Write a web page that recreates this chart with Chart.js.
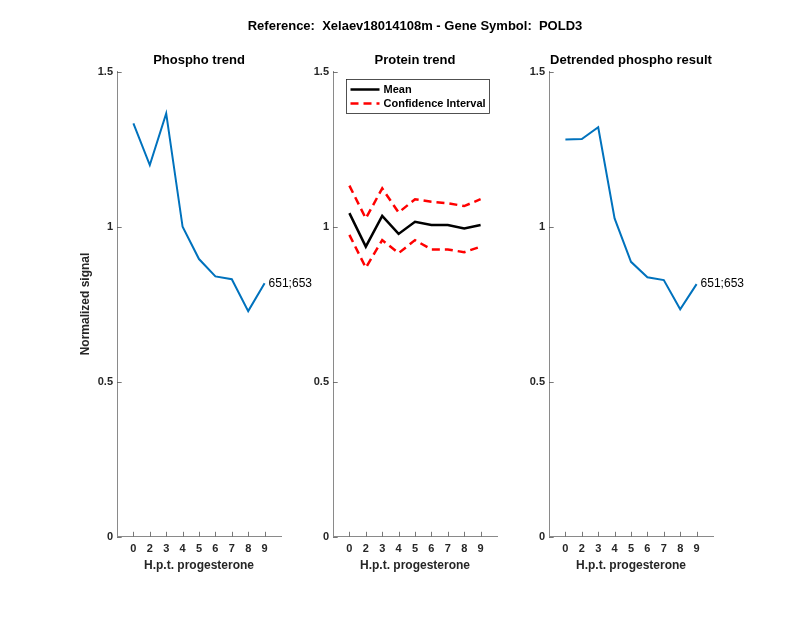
<!DOCTYPE html>
<html>
<head>
<meta charset="utf-8">
<script src="https://cdn.jsdelivr.net/npm/chart.js@4.4.0/dist/chart.umd.min.js"></script>
<style>
  body { margin: 0; background: #fff; }
  #wrap { position: relative; width: 800px; height: 618px; }
  #wrap canvas { position: absolute; left: 0; top: 0; }
</style>
</head>
<body>
<div id="wrap">
  <canvas id="c1" width="800" height="618"></canvas>
  <canvas id="c2" width="800" height="618"></canvas>
  <canvas id="c3" width="800" height="618"></canvas>
</div>
<script>
const hours = ['0', '2', '3', '4', '5', '6', '7', '8', '9'];
const phospho = [1.333, 1.198, 1.365, 0.999, 0.895, 0.839, 0.830, 0.727, 0.817];
const proteinMean = [1.043, 0.935, 1.034, 0.976, 1.015, 1.005, 1.005, 0.994, 1.005];
const proteinUpper = [1.132, 1.026, 1.123, 1.045, 1.088, 1.080, 1.075, 1.066, 1.088];
const proteinLower = [0.973, 0.867, 0.956, 0.914, 0.956, 0.926, 0.926, 0.917, 0.935];
const detrended = [1.281, 1.282, 1.320, 1.026, 0.886, 0.836, 0.827, 0.733, 0.814];
const yTicks = [0, 0.5, 1, 1.5];
const pageTitle = 'Reference:  Xelaev18014108m - Gene Symbol:  POLD3';
const siteLabel = '651;653';

const FONT = "'Liberation Sans', Arial, Helvetica, sans-serif";
const BLUE = '#0072BD';
const AXIS = '#262626';

// x positions are the category index, axis runs from -1 to n
const pts = (vals) => vals.map((v, i) => ({ x: i, y: v }));

const matlabLook = {
  id: 'matlabLook',
  afterDraw(chart, args, o) {
    const { ctx, chartArea: ca, scales } = chart;
    const xs = scales.x, ys = scales.y;
    ctx.save();

    // inward tick marks, matlab style
    ctx.strokeStyle = '#555';
    ctx.lineWidth = 0.8;
    ctx.beginPath();
    xs.ticks.forEach(t => {
      const px = Math.round(xs.getPixelForValue(t.value)) + 0.5;
      ctx.moveTo(px, ca.bottom);
      ctx.lineTo(px, ca.bottom - 4.7);
    });
    ys.ticks.forEach(t => {
      const py = Math.round(ys.getPixelForValue(t.value)) + 0.5;
      ctx.moveTo(ca.left, py);
      ctx.lineTo(ca.left + 4.7, py);
    });
    ctx.stroke();

    const cx = (ca.left + ca.right) / 2;
    ctx.fillStyle = '#000';
    ctx.textAlign = 'center';
    ctx.textBaseline = 'alphabetic';
    ctx.font = 'bold 13px ' + FONT;
    ctx.fillText(o.title, cx, ca.top - 7.5);

    ctx.fillStyle = AXIS;
    ctx.font = 'bold 12px ' + FONT;
    ctx.fillText('H.p.t. progesterone', cx, ca.bottom + 32);

    if (o.yTitle) {
      ctx.save();
      ctx.translate(ca.left - 28.5, (ca.top + ca.bottom) / 2);
      ctx.rotate(-Math.PI / 2);
      ctx.fillText(o.yTitle, 0, 0);
      ctx.restore();
    }

    if (o.endLabel) {
      const ds = chart.data.datasets[0].data;
      const last = ds[ds.length - 1];
      ctx.fillStyle = '#000';
      ctx.font = '12px ' + FONT;
      ctx.textAlign = 'left';
      ctx.textBaseline = 'middle';
      ctx.fillText(o.endLabel, xs.getPixelForValue(last.x) + 4, ys.getPixelForValue(last.y));
    }

    if (o.pageTitle) {
      ctx.fillStyle = '#000';
      ctx.font = 'bold 13px ' + FONT;
      ctx.textAlign = 'center';
      ctx.textBaseline = 'alphabetic';
      ctx.fillText(o.pageTitle, o.pageTitleX, 29.5);
    }

    if (o.legend) {
      const bx = Math.round(ca.left + 13) + 0.5, by = Math.round(ca.top + 7.5) + 0.5;
      ctx.fillStyle = '#fff';
      ctx.fillRect(bx, by, 143, 34);
      ctx.strokeStyle = AXIS;
      ctx.lineWidth = 0.8;
      ctx.strokeRect(bx, by, 143, 34);
      ctx.font = 'bold 11px ' + FONT;
      ctx.textAlign = 'left';
      ctx.textBaseline = 'middle';
      chart.data.datasets.filter(d => d.label).forEach((d, i) => {
        const y = by + 10 + i * 14;
        ctx.strokeStyle = d.borderColor;
        ctx.lineWidth = d.borderWidth;
        ctx.setLineDash(d.borderDash || []);
        ctx.beginPath();
        ctx.moveTo(bx + 4, y);
        ctx.lineTo(bx + 33, y);
        ctx.stroke();
        ctx.setLineDash([]);
        ctx.fillStyle = '#000';
        ctx.fillText(d.label, bx + 37, y);
      });
    }
    ctx.restore();
  }
};

function panel(id, left, datasets, look) {
  const width = 164;
  new Chart(document.getElementById(id), {
    type: 'line',
    data: { datasets: datasets },
    options: {
      responsive: false,
      animation: false,
      layout: {
        padding: { left: left - 40, right: 800 - left - width, top: 71.5, bottom: 618 - 536.5 - 30 }
      },
      elements: { point: { radius: 0 }, line: { tension: 0 } },
      plugins: { legend: { display: false }, tooltip: { enabled: false }, matlabLook: look },
      scales: {
        x: {
          type: 'linear',
          min: -1,
          max: hours.length,
          afterBuildTicks: s => { s.ticks = hours.map((h, i) => ({ value: i })); },
          afterFit: s => { s.height = 30; },
          ticks: {
            autoSkip: false,
            maxRotation: 0,
            padding: 6,
            color: AXIS,
            font: { family: FONT, size: 11, weight: 'bold' },
            callback: v => hours[v]
          },
          grid: { display: false, drawTicks: false },
          border: { display: true, color: '#8a8a8a', width: 1 }
        },
        y: {
          min: 0,
          max: 1.5,
          afterBuildTicks: s => { s.ticks = yTicks.map(v => ({ value: v })); },
          afterFit: s => { s.width = 40; },
          ticks: {
            padding: 4,
            color: AXIS,
            font: { family: FONT, size: 11, weight: 'bold' },
            callback: v => String(v)
          },
          grid: { display: false, drawTicks: false },
          border: { display: true, color: '#8a8a8a', width: 1 }
        }
      }
    },
    plugins: [matlabLook]
  });
}

panel('c1', 117, [
  { data: pts(phospho), borderColor: BLUE, borderWidth: 2 }
], { title: 'Phospho trend', yTitle: 'Normalized signal', endLabel: siteLabel });

panel('c2', 333, [
  { label: 'Mean', data: pts(proteinMean), borderColor: '#000', borderWidth: 2.5 },
  { label: 'Confidence Interval', data: pts(proteinUpper), borderColor: '#ff0000', borderWidth: 2.5, borderDash: [8, 5] },
  { data: pts(proteinLower), borderColor: '#ff0000', borderWidth: 2.5, borderDash: [8, 5] }
], { title: 'Protein trend', legend: true, pageTitle: pageTitle, pageTitleX: 415 });

panel('c3', 549, [
  { data: pts(detrended), borderColor: BLUE, borderWidth: 2 }
], { title: 'Detrended phospho result', endLabel: siteLabel });
</script>
</body>
</html>
